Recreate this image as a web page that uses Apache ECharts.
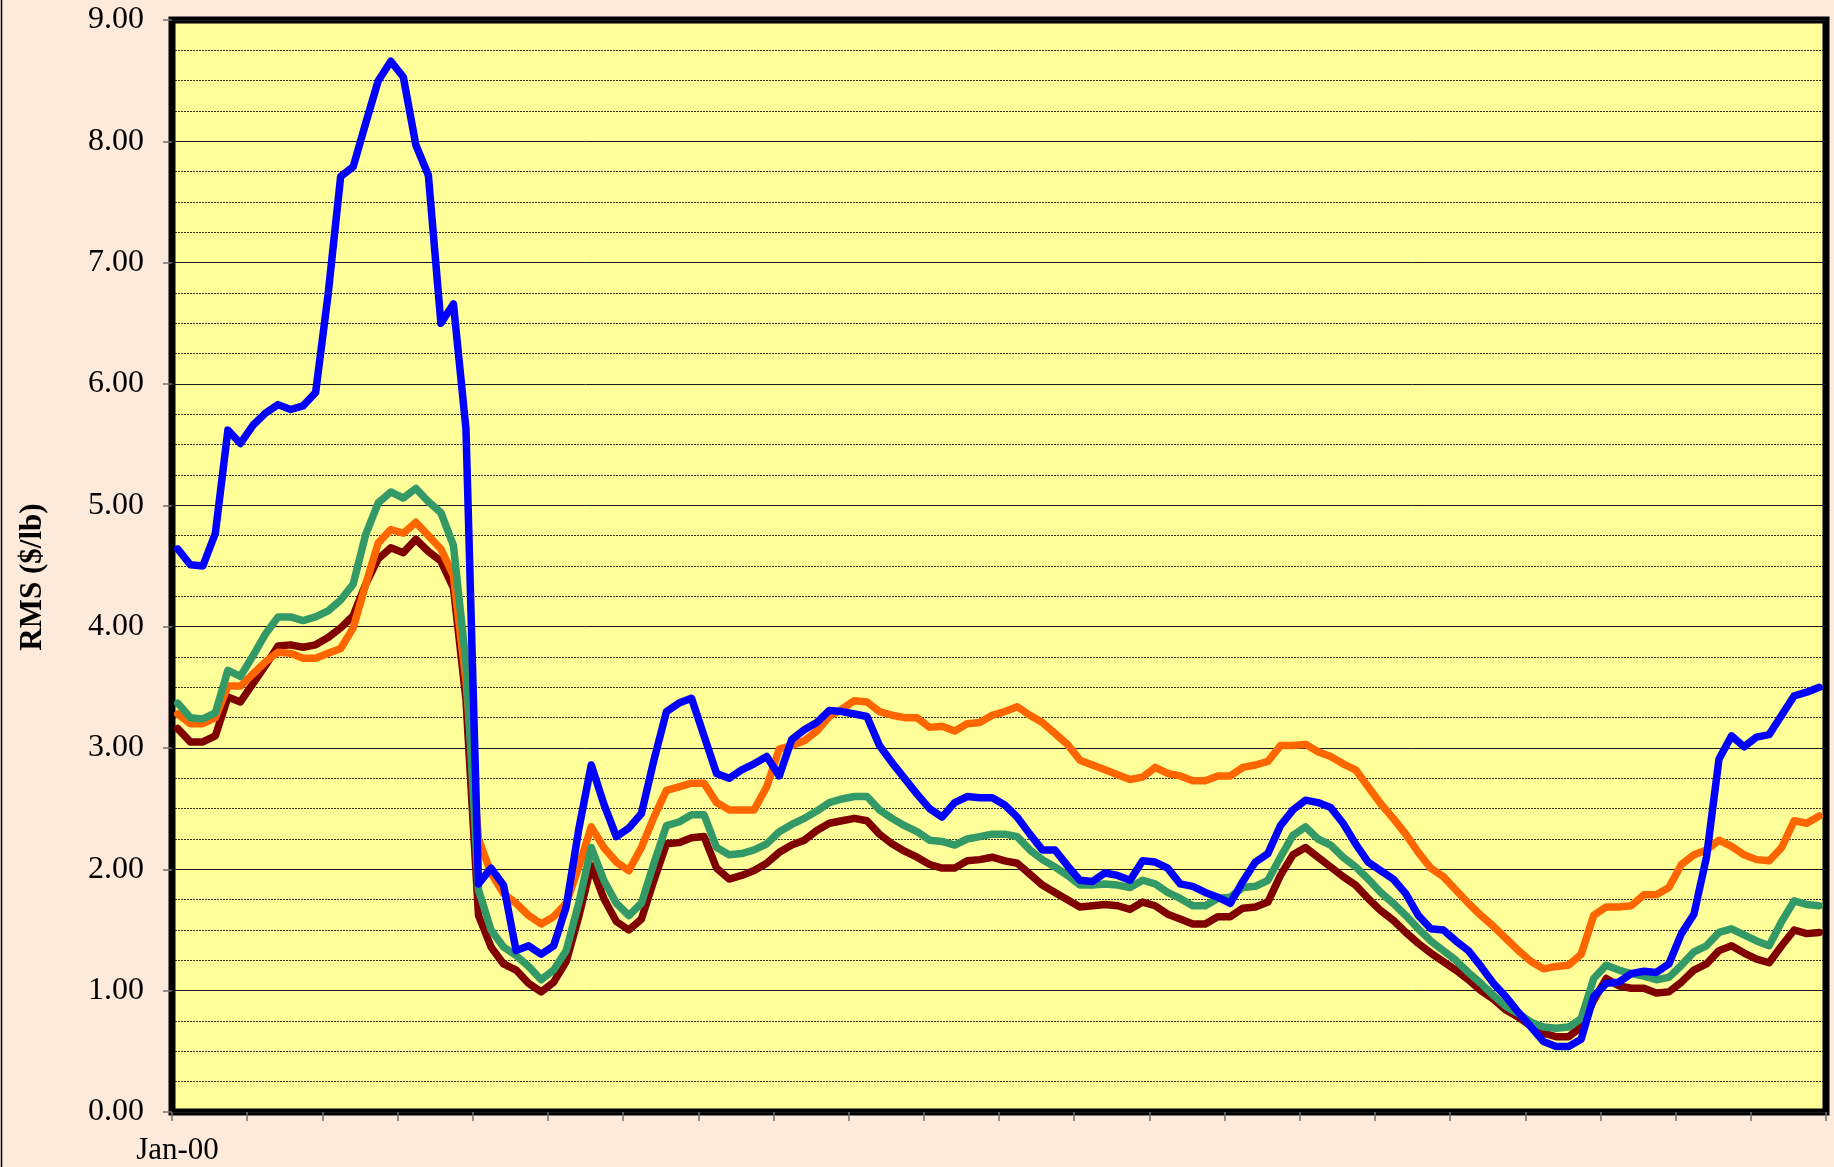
<!DOCTYPE html>
<html>
<head>
<meta charset="utf-8">
<title>RMS ($/lb)</title>
<script src="https://cdn.jsdelivr.net/npm/echarts@6/dist/echarts.min.js"></script>
<style>
  html, body { margin: 0; padding: 0; background: #FDEADA; }
  #chart { width: 1834px; height: 1167px; }
</style>
</head>
<body>
<div id="chart"></div>
<script>
// monthly values, Jan-00 .. Dec-10
var xTickLabels = ['Jan-00'];
var yTickLabels = ['0.00', '1.00', '2.00', '3.00', '4.00', '5.00', '6.00', '7.00', '8.00', '9.00'];

var blueSeries = [
  4.64, 4.51, 4.50, 4.77, 5.62, 5.51, 5.66, 5.76, 5.83, 5.79, 5.82, 5.93,
  6.74, 7.71, 7.79, 8.15, 8.50, 8.66, 8.53, 7.97, 7.72, 6.50, 6.66, 5.63,
  1.88, 2.01, 1.87, 1.33, 1.37, 1.30, 1.37, 1.69, 2.33, 2.86, 2.54, 2.27,
  2.34, 2.46, 2.90, 3.30, 3.37, 3.41, 3.10, 2.79, 2.75, 2.82, 2.87, 2.93,
  2.77, 3.07, 3.15, 3.21, 3.31, 3.30, 3.28, 3.26, 3.02, 2.88, 2.75, 2.62,
  2.50, 2.43, 2.55, 2.60, 2.59, 2.59, 2.53, 2.43, 2.29, 2.16, 2.16, 2.03,
  1.91, 1.90, 1.97, 1.95, 1.91, 2.07, 2.06, 2.01, 1.88, 1.86, 1.81, 1.77,
  1.72, 1.90, 2.06, 2.13, 2.36, 2.49, 2.57, 2.55, 2.51, 2.38, 2.21, 2.06,
  1.99, 1.92, 1.80, 1.62, 1.51, 1.50, 1.41, 1.33, 1.20, 1.06, 0.95, 0.82,
  0.70, 0.58, 0.54, 0.54, 0.60, 0.95, 1.06, 1.07, 1.14, 1.16, 1.15, 1.22,
  1.47, 1.63, 2.10, 2.91, 3.10, 3.01, 3.09, 3.11, 3.27, 3.43, 3.46, 3.50
];

var orangeSeries = [
  3.28, 3.20, 3.20, 3.25, 3.51, 3.51, 3.61, 3.71, 3.79, 3.78, 3.74, 3.74,
  3.78, 3.82, 3.99, 4.35, 4.69, 4.80, 4.77, 4.86, 4.75, 4.64, 4.42, 3.55,
  2.25, 1.97, 1.80, 1.72, 1.62, 1.55, 1.61, 1.72, 2.02, 2.35, 2.18, 2.06,
  1.99, 2.18, 2.43, 2.65, 2.68, 2.71, 2.71, 2.55, 2.49, 2.49, 2.49, 2.68,
  2.99, 3.02, 3.06, 3.14, 3.26, 3.32, 3.39, 3.38, 3.30, 3.27, 3.25, 3.25,
  3.17, 3.18, 3.14, 3.20, 3.21, 3.27, 3.30, 3.34, 3.27, 3.21, 3.12, 3.03,
  2.90, 2.86, 2.82, 2.78, 2.74, 2.76, 2.84, 2.79, 2.77, 2.73, 2.73, 2.77,
  2.77, 2.84, 2.86, 2.89, 3.02, 3.02, 3.03, 2.97, 2.93, 2.87, 2.82, 2.68,
  2.54, 2.42, 2.29, 2.14, 2.01, 1.94, 1.83, 1.72, 1.62, 1.53, 1.43, 1.33,
  1.24, 1.18, 1.20, 1.21, 1.30, 1.62, 1.69, 1.69, 1.70, 1.79, 1.79, 1.85,
  2.04, 2.12, 2.16, 2.24, 2.19, 2.12, 2.08, 2.07, 2.18, 2.40, 2.38, 2.44
];

var greenSeries = [
  3.37, 3.25, 3.24, 3.29, 3.64, 3.59, 3.76, 3.94, 4.08, 4.08, 4.05, 4.08,
  4.13, 4.22, 4.35, 4.76, 5.02, 5.11, 5.06, 5.14, 5.03, 4.94, 4.67, 3.70,
  1.83, 1.50, 1.36, 1.29, 1.20, 1.09, 1.17, 1.33, 1.72, 2.18, 1.91, 1.72,
  1.62, 1.72, 2.05, 2.36, 2.39, 2.45, 2.45, 2.18, 2.12, 2.13, 2.16, 2.21,
  2.31, 2.37, 2.42, 2.48, 2.55, 2.58, 2.60, 2.60, 2.49, 2.42, 2.36, 2.31,
  2.24, 2.23, 2.20, 2.25, 2.27, 2.29, 2.29, 2.27, 2.16, 2.08, 2.02, 1.95,
  1.87, 1.87, 1.88, 1.87, 1.85, 1.91, 1.88, 1.81, 1.76, 1.70, 1.70, 1.76,
  1.77, 1.85, 1.86, 1.91, 2.10, 2.28, 2.35, 2.25, 2.20, 2.10, 2.02, 1.92,
  1.81, 1.72, 1.62, 1.51, 1.41, 1.33, 1.25, 1.15, 1.06, 0.96, 0.87, 0.81,
  0.74, 0.70, 0.69, 0.70, 0.77, 1.10, 1.21, 1.17, 1.14, 1.12, 1.09, 1.11,
  1.21, 1.32, 1.37, 1.48, 1.51, 1.46, 1.41, 1.37, 1.57, 1.74, 1.71, 1.70
];

var maroonSeries = [
  3.16, 3.05, 3.05, 3.10, 3.42, 3.38, 3.53, 3.68, 3.84, 3.85, 3.83, 3.85,
  3.91, 3.99, 4.09, 4.35, 4.56, 4.65, 4.61, 4.72, 4.62, 4.54, 4.32, 3.40,
  1.62, 1.36, 1.22, 1.17, 1.06, 0.99, 1.07, 1.24, 1.61, 2.03, 1.76, 1.57,
  1.50, 1.59, 1.91, 2.21, 2.22, 2.26, 2.27, 2.01, 1.92, 1.95, 1.99, 2.05,
  2.14, 2.20, 2.24, 2.32, 2.38, 2.40, 2.42, 2.40, 2.29, 2.21, 2.15, 2.10,
  2.04, 2.01, 2.01, 2.07, 2.08, 2.10, 2.07, 2.05, 1.96, 1.87, 1.81, 1.75,
  1.69, 1.70, 1.71, 1.70, 1.67, 1.73, 1.70, 1.63, 1.59, 1.55, 1.55, 1.61,
  1.61, 1.68, 1.69, 1.73, 1.95, 2.12, 2.18, 2.10, 2.02, 1.94, 1.87, 1.76,
  1.66, 1.58, 1.48, 1.39, 1.31, 1.24, 1.17, 1.09, 1.00, 0.93, 0.84, 0.78,
  0.71, 0.65, 0.62, 0.62, 0.70, 0.92, 1.10, 1.04, 1.02, 1.02, 0.98, 0.99,
  1.07, 1.17, 1.22, 1.33, 1.37, 1.31, 1.26, 1.23, 1.37, 1.50, 1.47, 1.48
];

// x axis counts months from 1-Jan-00; each value sits mid-month
var MID_MONTH = 14 / 30.4;
var AXIS_MONTHS = 132;

function toPoints(list) {
  var pts = [];
  for (var i = 0; i < list.length; i++) {
    pts.push([i + MID_MONTH, list[i]]);
  }
  return pts;
}

function lineSeries(name, color, list) {
  return {
    name: name,
    type: 'line',
    data: toPoints(list),
    symbol: 'none',
    smooth: false,
    lineStyle: { color: color, width: 7.5, cap: 'round', join: 'round' }
  };
}

var FONT = "'Liberation Serif', 'Times New Roman', serif";

var chart = echarts.init(document.getElementById('chart'), null, { renderer: 'canvas' });

chart.setOption({
  animation: false,
  backgroundColor: '#FDEADA',
  textStyle: { fontFamily: FONT },
  grid: {
    left: 172,
    top: 20,
    right: 8,
    bottom: 55,
    containLabel: false,
    outerBoundsMode: 'none',
    show: true,
    backgroundColor: '#FFFF99',
    borderColor: '#000000',
    borderWidth: 7
  },
  graphic: [{
    type: 'line',
    shape: { x1: 1.5, y1: 0, x2: 1.5, y2: 1167 },
    style: { stroke: '#000000', lineWidth: 1.5 }
  }],
  xAxis: {
    type: 'value',
    min: 0,
    max: AXIS_MONTHS,
    interval: 6,
    axisLine: { show: false },
    axisTick: { show: true, length: 9, lineStyle: { color: '#707070', width: 1.5 } },
    splitLine: { show: false },
    axisLabel: {
      margin: 23,
      fontSize: 31,
      color: '#000000',
      fontFamily: FONT,
      padding: [0, 0, 0, 11],
      formatter: function (v) {
        return v === 0 ? xTickLabels[0] : '';
      }
    }
  },
  yAxis: {
    type: 'value',
    min: 0,
    max: 9,
    interval: 1,
    name: 'RMS ($/lb)',
    nameLocation: 'middle',
    nameGap: 124,
    nameTextStyle: {
      fontSize: 31,
      fontWeight: 'bold',
      color: '#000000',
      fontFamily: FONT,
      padding: [0, 22, 0, 0]
    },
    axisLine: { show: false },
    axisTick: { show: true, length: 9, lineStyle: { color: '#707070', width: 1.5 } },
    axisLabel: {
      margin: 28,
      fontSize: 32,
      color: '#000000',
      fontFamily: FONT,
      formatter: function (v) {
        return yTickLabels[Math.round(v)];
      }
    },
    splitLine: { show: true, lineStyle: { color: '#1a1a1a', width: 1 } },
    minorTick: { show: false, splitNumber: 4 },
    minorSplitLine: { show: true, lineStyle: { color: '#000000', width: 1, type: [2, 1], opacity: 0.8 } }
  },
  series: [
    lineSeries('Series 4', '#800000', maroonSeries),
    lineSeries('Series 2', '#FF6600', orangeSeries),
    lineSeries('Series 3', '#339966', greenSeries),
    lineSeries('Series 1', '#0000FF', blueSeries)
  ]
});
</script>
</body>
</html>
